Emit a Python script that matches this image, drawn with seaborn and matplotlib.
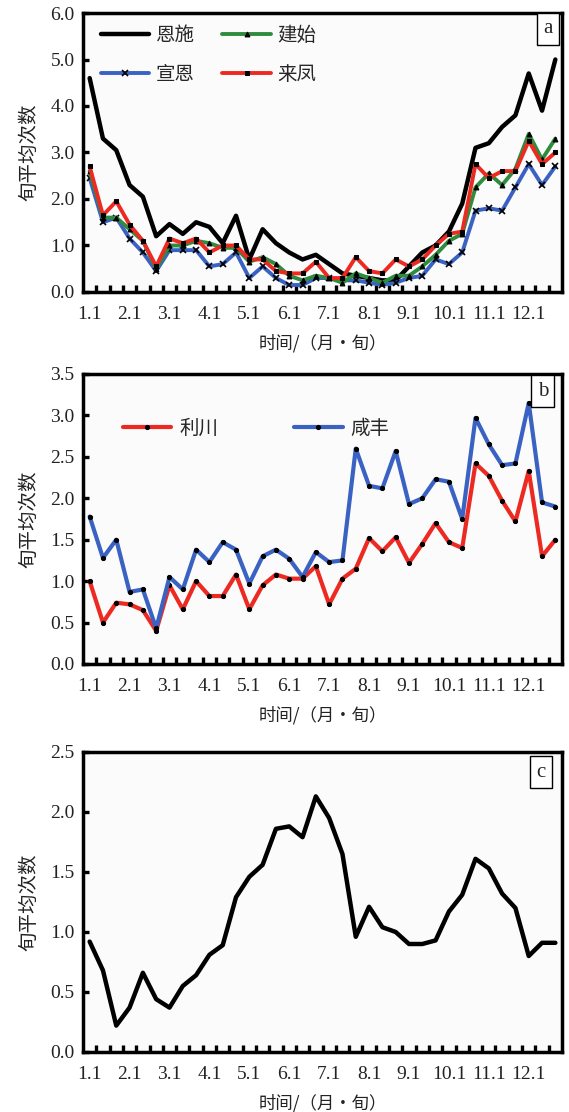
import numpy as np
import pandas as pd
import matplotlib
matplotlib.use("Agg")
import matplotlib.pyplot as plt
import seaborn as sns

# dekad index 0..35 (1.1 = Jan first dekad)
dekads = np.arange(36)
tick_pos = np.arange(0, 36, 3)
tick_labels = ["1.1", "2.1", "3.1", "4.1", "5.1", "6.1", "7.1", "8.1", "9.1", "10.1", "11.1", "12.1"]

# panel a
enshi = [4.6, 3.3, 3.05, 2.3, 2.05, 1.2, 1.46, 1.25, 1.5, 1.4, 1.05, 1.64,
         0.7, 1.35, 1.05, 0.85, 0.7, 0.8, 0.6, 0.4, 0.35, 0.3, 0.25, 0.25,
         0.55, 0.85, 1.0, 1.3, 1.9, 3.1, 3.2, 3.55, 3.8, 4.7, 3.9, 5.0]
jianshi = [2.6, 1.6, 1.6, 1.35, 1.1, 0.5, 1.0, 1.0, 1.1, 1.05, 0.95, 0.95,
           0.65, 0.75, 0.6, 0.35, 0.25, 0.35, 0.3, 0.2, 0.4, 0.3, 0.2, 0.35,
           0.35, 0.55, 0.8, 1.1, 1.25, 2.25, 2.55, 2.3, 2.65, 3.4, 2.85, 3.3]
xuanen = [2.45, 1.5, 1.6, 1.15, 0.85, 0.45, 0.9, 0.9, 0.9, 0.55, 0.6, 0.85,
          0.3, 0.55, 0.3, 0.15, 0.15, 0.3, 0.3, 0.25, 0.25, 0.2, 0.15, 0.2,
          0.3, 0.35, 0.7, 0.6, 0.85, 1.75, 1.8, 1.75, 2.25, 2.75, 2.3, 2.7]
laifeng = [2.7, 1.65, 1.95, 1.45, 1.1, 0.55, 1.15, 1.05, 1.15, 0.85, 1.0, 1.0,
           0.7, 0.7, 0.45, 0.4, 0.4, 0.65, 0.3, 0.3, 0.75, 0.45, 0.4, 0.7,
           0.55, 0.7, 1.0, 1.25, 1.3, 2.75, 2.45, 2.6, 2.6, 3.25, 2.75, 3.0]

# panel b
lichuan = [1.0, 0.5, 0.74, 0.72, 0.65, 0.4, 0.95, 0.66, 1.0, 0.82, 0.82, 1.08,
           0.66, 0.95, 1.08, 1.03, 1.03, 1.18, 0.72, 1.03, 1.15, 1.52, 1.36, 1.53,
           1.22, 1.45, 1.7, 1.47, 1.4, 2.42, 2.27, 1.97, 1.72, 2.33, 1.3, 1.5]
xianfeng = [1.78, 1.28, 1.5, 0.87, 0.9, 0.43, 1.05, 0.9, 1.38, 1.23, 1.47, 1.38,
            0.97, 1.3, 1.38, 1.27, 1.05, 1.35, 1.23, 1.25, 2.6, 2.15, 2.12, 2.57,
            1.93, 2.0, 2.23, 2.2, 1.75, 2.97, 2.65, 2.4, 2.42, 3.15, 1.95, 1.9]

# panel c
region = [0.92, 0.68, 0.22, 0.37, 0.66, 0.44, 0.37, 0.55, 0.64, 0.81, 0.89, 1.29,
          1.46, 1.56, 1.86, 1.88, 1.79, 2.13, 1.95, 1.65, 0.96, 1.21, 1.04, 1.0,
          0.9, 0.9, 0.93, 1.17, 1.31, 1.61, 1.53, 1.32, 1.2, 0.8, 0.91, 0.91]

sns.set_theme(style="white")
plt.rcParams['font.family'] = ['Noto Sans CJK SC', 'DejaVu Sans']

fig = plt.figure(figsize=(5.69, 11.12), dpi=100)
fig.patch.set_facecolor("white")

W = 569.0
H = 1112.0
def make_axes(top, bottom):
    return fig.add_axes([83 / W, 1 - bottom / H, 479 / W, (bottom - top) / H])

ax_a = make_axes(13, 292)
ax_b = make_axes(374, 664)
ax_c = make_axes(752, 1052)


def style_axes(ax, ymax, ystep, letter, box_xy):
    ax.set_facecolor("#fbfbfb")
    ax.set_xlim(-0.5, 35.5)
    ax.set_ylim(0, ymax)
    for sp in ax.spines.values():
        sp.set_visible(True)
        sp.set_color("black")
        sp.set_linewidth(2.5)
    ax.set_xticks(tick_pos)
    ax.set_xticklabels(tick_labels)
    ax.set_xticks(np.arange(0.5, 35, 1), minor=True)
    ax.tick_params(axis="x", which="major", length=0, pad=10)
    ax.tick_params(axis="x", which="minor", direction="in", length=5, width=2.4,
                   color="black", bottom=True)
    yt = np.arange(0, ymax + 0.001, ystep)
    ax.set_yticks(yt)
    ax.set_yticklabels([f"{v:.1f}" for v in yt])
    ax.tick_params(axis="y", which="major", direction="in", length=4, width=2.4,
                   color="black", left=True, pad=6)
    for lab in ax.get_xticklabels() + ax.get_yticklabels():
        lab.set_fontfamily("Liberation Serif")
        lab.set_fontsize(14)
        lab.set_color("#222222")
    ax.set_xlabel("时间/（月·旬）", fontsize=12.5, labelpad=8, color="#222222")
    ax.set_ylabel("旬平均次数", fontsize=14, labelpad=8, color="#222222")
    ax.grid(False)
    ax.text(box_xy[0], box_xy[1], letter, transform=ax.transAxes,
            ha="center", va="center", fontsize=15, family="Liberation Serif",
            bbox=dict(boxstyle="square,pad=0.3", fc="white", ec="black", lw=1.0))


# ---- panel a
sns.lineplot(x=dekads, y=enshi, ax=ax_a, color="black", lw=3.2, label="恩施")
sns.lineplot(x=dekads, y=xuanen, ax=ax_a, color="#3a62c2", lw=2.8, marker="x",
             markersize=4, markeredgecolor="black", markeredgewidth=1.2, label="宣恩")
sns.lineplot(x=dekads, y=jianshi, ax=ax_a, color="#2f8c3f", lw=2.8, marker="^",
             markersize=3.5, markeredgecolor="black", markerfacecolor="black", label="建始")
sns.lineplot(x=dekads, y=laifeng, ax=ax_a, color="#ec2a22", lw=2.8, marker="s",
             markersize=3, markeredgecolor="black", markerfacecolor="black", label="来凤")
h, l = ax_a.get_legend_handles_labels()
order = [l.index(n) for n in ["恩施", "宣恩", "建始", "来凤"]]
ax_a.legend([h[i] for i in order], [l[i] for i in order], ncol=2, frameon=False,
            loc="upper left", bbox_to_anchor=(0.037, 0.958), borderaxespad=0,
            borderpad=0, fontsize=14, handlelength=2.5, handletextpad=0.35,
            columnspacing=1.4, labelspacing=0.95)
style_axes(ax_a, 6.0, 1.0, "a", (0.971, 0.943))

# ---- panel b
sns.lineplot(x=dekads, y=lichuan, ax=ax_b, color="#ec2a22", lw=3.0, marker="o",
             markersize=3, markeredgecolor="black", markerfacecolor="black", label="利川")
sns.lineplot(x=dekads, y=xianfeng, ax=ax_b, color="#3a62c2", lw=3.0, marker="o",
             markersize=3, markeredgecolor="black", markerfacecolor="black", label="咸丰")
ax_b.legend(ncol=2, frameon=False, loc="upper left", bbox_to_anchor=(0.083, 0.85),
            borderaxespad=0, borderpad=0, fontsize=14, handlelength=2.5,
            handletextpad=0.4, columnspacing=3.9)
style_axes(ax_b, 3.5, 0.5, "b", (0.96, 0.941))

# ---- panel c
sns.lineplot(x=dekads, y=region, ax=ax_c, color="black", lw=3.2)
style_axes(ax_c, 2.5, 0.5, "c", (0.956, 0.933))

fig.savefig("out.png", dpi=100)
